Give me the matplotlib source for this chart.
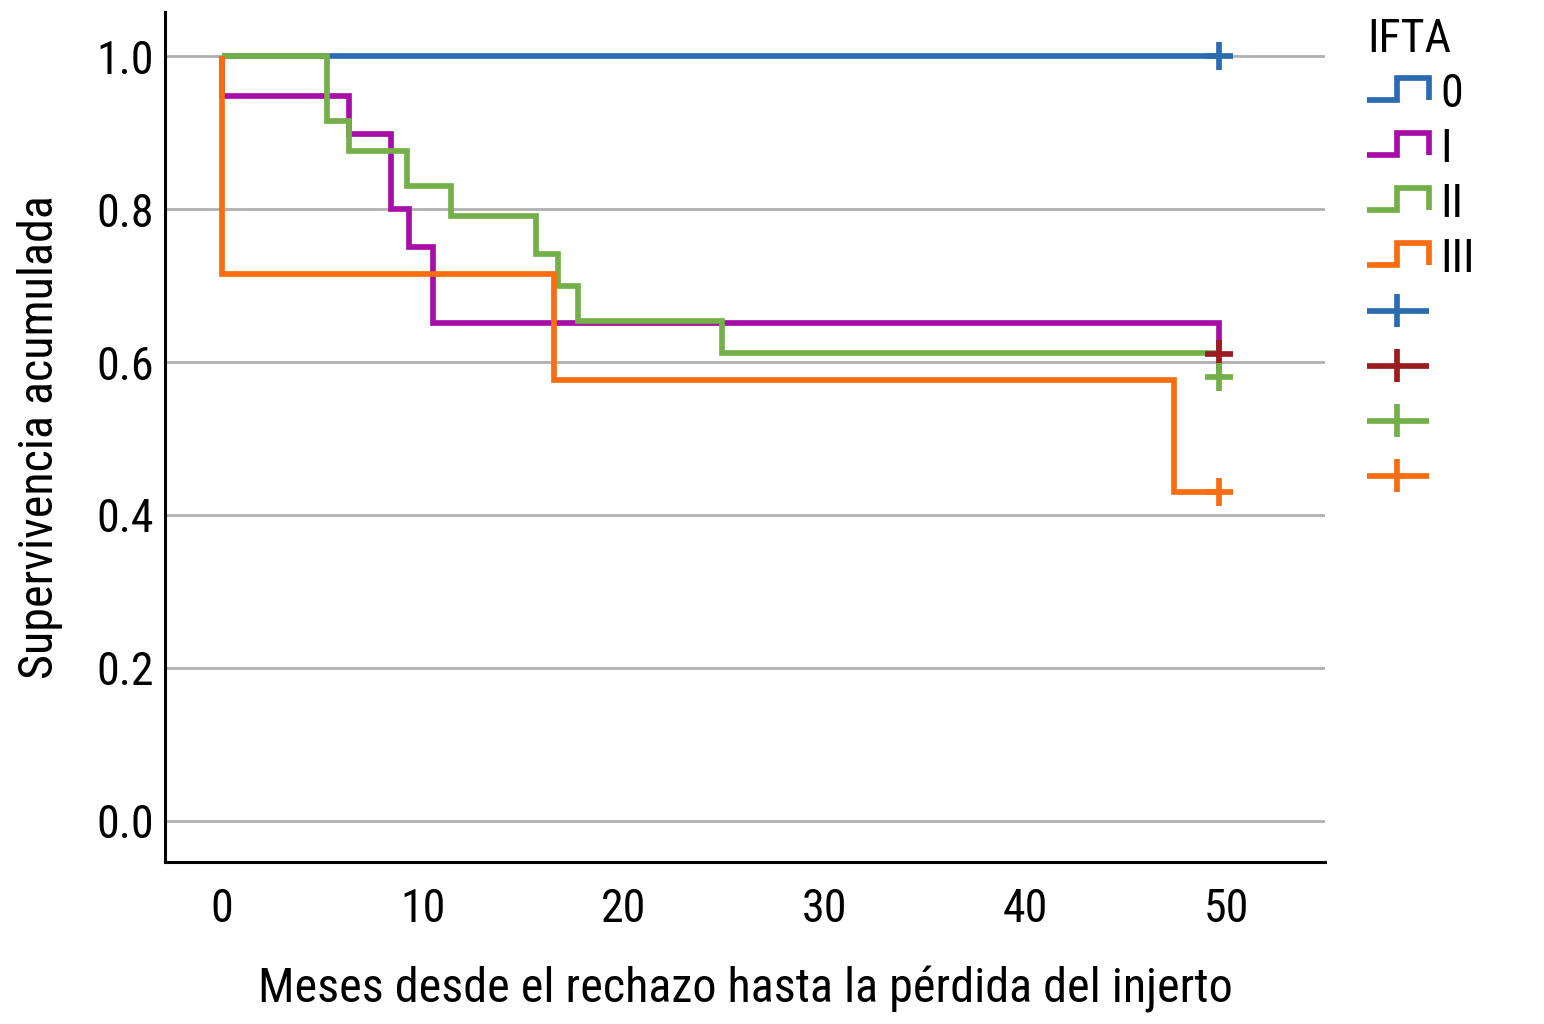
import matplotlib
matplotlib.use("Agg")
import matplotlib.pyplot as plt
from matplotlib.lines import Line2D
from matplotlib.legend_handler import HandlerBase

plt.rcParams['font.family'] = ['Roboto Condensed', 'DejaVu Sans']

# Datos (meses, supervivencia)
t0 = [0, 49.6]
s0 = [1.0, 1.0]

t1 = [0, 0, 6.3, 8.4, 9.3, 10.5, 49.6, 49.6]
s1 = [1.0, 0.948, 0.898, 0.80, 0.75, 0.651, 0.651, 0.61]

t2 = [0, 5.2, 6.3, 9.2, 11.4, 15.6, 16.7, 17.7, 24.9, 49.6, 49.6]
s2 = [1.0, 0.916, 0.876, 0.831, 0.791, 0.742, 0.70, 0.654, 0.612, 0.612, 0.58]

t3 = [0, 0, 16.5, 47.4, 49.6]
s3 = [1.0, 0.715, 0.576, 0.43, 0.43]

# censurados
cens_t = [49.6, 49.6, 49.6, 49.6]
cens_s = [1.0, 0.61, 0.58, 0.43]

grupos = ['0', 'I', 'II', 'III']
colores = ['#2b6cb0', '#a70ea7', '#74b04a', '#f96d10']
colores_cens = ['#2b6cb0', '#9b1c1f', '#74b04a', '#f96d10']


def steps(t, s):
    xs, ys = [t[0]], [s[0]]
    for i in range(1, len(t)):
        xs += [t[i], t[i]]
        ys += [s[i - 1], s[i]]
    return xs, ys


class HandlerStep(HandlerBase):
    def create_artists(self, legend, orig_handle, xdescent, ydescent,
                       width, height, fontsize, trans):
        x0, x1, xm = -xdescent, -xdescent + width, -xdescent + width * 0.48
        ylo, yhi = -ydescent + height * 0.15, -ydescent + height * 0.95
        ln = Line2D([x0, xm, xm, x1, x1], [ylo, ylo, yhi, yhi, ylo],
                    color=orig_handle.get_color(), lw=orig_handle.get_linewidth(),
                    solid_joinstyle='miter', solid_capstyle='butt')
        ln.set_transform(trans)
        return [ln]


class HandlerCross(HandlerBase):
    def create_artists(self, legend, orig_handle, xdescent, ydescent,
                       width, height, fontsize, trans):
        x0, x1, xm = -xdescent, -xdescent + width, -xdescent + width * 0.48
        ym = -ydescent + height * 0.5
        c = orig_handle.get_color()
        lw = orig_handle.get_linewidth()
        h = Line2D([x0, x1], [ym, ym], color=c, lw=lw, solid_capstyle='butt')
        v = Line2D([xm, xm], [ym - height * 0.6, ym + height * 0.6], color=c, lw=lw,
                   solid_capstyle='butt')
        h.set_transform(trans)
        v.set_transform(trans)
        return [h, v]


fig = plt.figure(figsize=(15.44, 10.24), dpi=100)
ax = fig.add_axes([0.1069, 0.1582, 0.7513, 0.8301])

series = [(t0, s0), (t1, s1), (t2, s2), (t3, s3)]
orden = [0, 3, 1, 2]
for k in orden:
    xs, ys = steps(*series[k])
    ax.plot(xs, ys, color=colores[k], lw=4.1, solid_joinstyle='miter',
            solid_capstyle='butt', zorder=3 + k)

marcas = []
for i in range(4):
    ax.plot(cens_t[i], cens_s[i], marker='+', ms=20, mew=4.1, color=colores_cens[i],
            zorder=10, linestyle='none')
    marcas.append(Line2D([], [], color=colores_cens[i], lw=4.1))

ax.set_xlim(-2.84, 54.9)
ax.set_ylim(-0.054, 1.058)
ax.set_xticks([0, 10, 20, 30, 40, 50])
ax.set_yticks([0.0, 0.2, 0.4, 0.6, 0.8, 1.0])
ax.set_yticklabels(['0.0', '0.2', '0.4', '0.6', '0.8', '1.0'])
ax.tick_params(length=0, labelsize=33)
ax.tick_params(axis='x', pad=18)
ax.tick_params(axis='y', pad=8)
ax.yaxis.grid(True, color='#b0b0b0', lw=2)
ax.set_axisbelow(True)
for s in ['top', 'right']:
    ax.spines[s].set_visible(False)
for s in ['left', 'bottom']:
    ax.spines[s].set_linewidth(2.2)

ax.set_xlabel('Meses desde el rechazo hasta la pérdida del injerto', fontsize=34.7, labelpad=25)
ax.set_ylabel('Supervivencia acumulada', fontsize=34.7, labelpad=24)

handles = [Line2D([], [], color=colores[i], lw=4.1) for i in range(4)] + marcas
labels = grupos + [''] * 4
hmap = {h: HandlerStep() for h in handles[:4]}
hmap.update({h: HandlerCross() for h in handles[4:]})
leg = fig.legend(handles, labels, handler_map=hmap, title='IFTA', loc='upper left',
                 bbox_to_anchor=(1367 / 1544, 1 - 17 / 1024), frameon=False, fontsize=33,
                 title_fontsize=33, handlelength=1.35, handleheight=0.55,
                 handletextpad=0.25, labelspacing=0.24, borderaxespad=0, borderpad=0)
leg._legend_box.align = 'left'

fig.savefig('out.png', dpi=100)
